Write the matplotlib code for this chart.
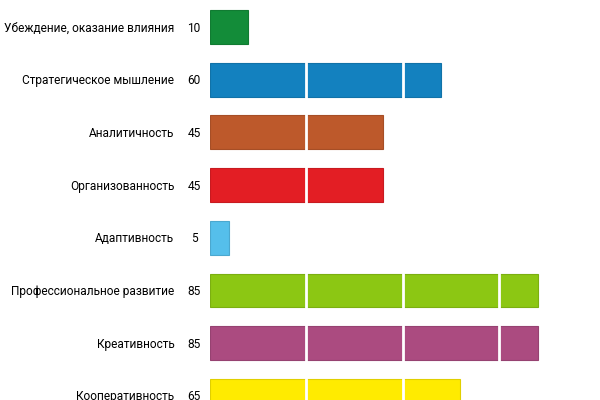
import matplotlib
matplotlib.use("Agg")
import matplotlib.pyplot as plt
import matplotlib.colors as mcolors

categories = ["Убеждение, оказание влияния", "Стратегическое мышление", "Аналитичность",
              "Организованность", "Адаптивность", "Профессиональное развитие",
              "Креативность", "Кооперативность"]
values = [10, 60, 45, 45, 5, 85, 85, 65]
colors = ["#138c39", "#1381bf", "#bd592b", "#e31e24", "#55bfeb", "#8cc713", "#ab4b80", "#ffeb00"]
grid_ticks = [25, 50, 75]

plt.rcParams['font.family'] = ['Roboto', 'DejaVu Sans']

fig = plt.figure(figsize=(6, 4), dpi=100)
ax = fig.add_axes([209.5 / 600, 0, 386 / 600, 1])
ax.set_xlim(0, 100)
ax.set_ylim((400 - 27) / 52.7, -27 / 52.7)

def darker(c, f=0.88):
    r, g, b = mcolors.to_rgb(c)
    return (r * f, g * f, b * f)

base_off = 4.5 / 52.7
for i, (v, c) in enumerate(zip(values, colors)):
    ax.barh(i, v, height=0.645, color=c, edgecolor=darker(c), linewidth=0.8, zorder=2)
    ax.text(-9.1, i + base_off, categories[i], ha='right', va='baseline', fontsize=8.6,
            color='#000000', clip_on=False)
    ax.text(-4.0, i + base_off, str(v), ha='center', va='baseline', fontsize=8.6,
            color='#000000', clip_on=False)

for g in grid_ticks:
    ax.axvline(g, color='white', linewidth=2.0, zorder=3)

ax.axis('off')
fig.savefig("out.png", dpi=100)
